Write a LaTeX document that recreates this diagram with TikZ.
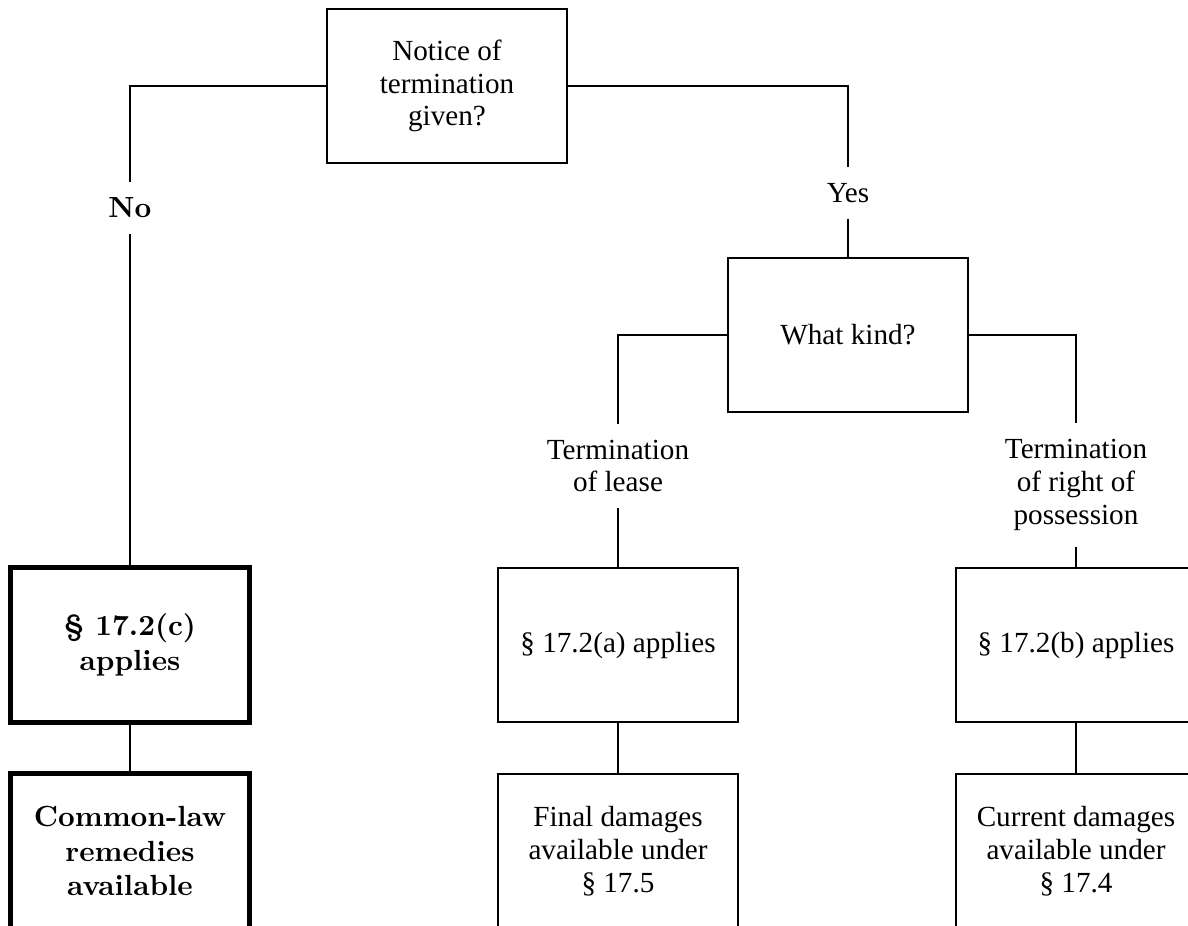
\documentclass[tikz,border=0pt]{standalone}
\usepackage{fontspec}
\setmainfont{Liberation Serif}
\newfontfamily\heavyfont{lmroman10-bold.otf}
\begin{document}
\begin{tikzpicture}[x=0.02cm,y=-0.02cm,line width=0.04cm,
    box/.style={draw,minimum width=4.8cm,minimum height=3.1cm,align=center,inner sep=0pt},
    heavybox/.style={box,line width=0.1cm,font=\heavyfont\fontsize{16.6}{19.8}\selectfont},
    lbl/.style={align=center,inner xsep=0pt,inner ysep=0.3cm},
    font=\fontsize{16.6}{18.7}\selectfont]
    \useasboundingbox (0,0) rectangle (1188,926);
    \clip (0,0) rectangle (1188,926);
    % Frage oben
    \node[box] (notice) at (447,86) {Notice of\\termination\\given?};
    \node[lbl,font=\heavyfont\fontsize{16.6}{19.8}\selectfont] (no) at (130,208) {No};
    \node[lbl] (yes) at (848,193) {Yes};
    \node[box] (kind) at (848,335) {What kind?};
    \node[lbl] (lease) at (618,466) {Termination\\of lease};
    \node[lbl] (poss) at (1076,485) {Termination\\of right of\\possession};
    % mittlere Reihe
    \node[heavybox] (applc) at (130,645) {\S\ 17.2(c)\\applies};
    \node[box] (appla) at (618,645) {\S\ 17.2(a) applies};
    \node[box] (applb) at (1076,645) {\S\ 17.2(b) applies};
    % untere Reihe (unten abgeschnitten)
    \node[heavybox] (common) at (130,851) {Common-law\\remedies\\available};
    \node[box] (final) at (618,851) {Final damages\\available under\\\S\ 17.5};
    \node[box] (current) at (1076,851) {Current damages\\available under\\\S\ 17.4};
    % Verbindungen
    \draw (notice.west) -| (no.north);
    \draw (no.south) -- (applc.north);
    \draw (applc) -- (common);
    \draw (notice.east) -| (yes.north);
    \draw (yes.south) -- (kind.north);
    \draw (kind.west) -| (lease.north);
    \draw (lease.south) -- (appla.north);
    \draw (appla) -- (final);
    \draw (kind.east) -| (poss.north);
    \draw (poss.south) -- (applb.north);
    \draw (applb) -- (current);
\end{tikzpicture}
\end{document}
